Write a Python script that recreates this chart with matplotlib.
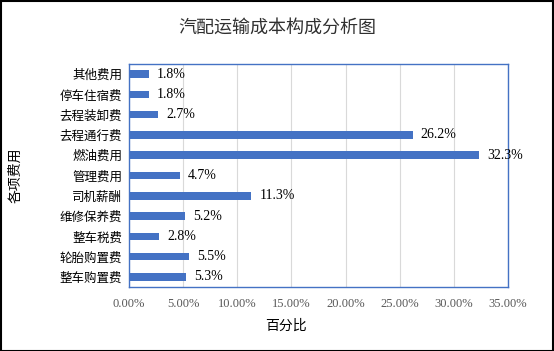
import numpy as np
import matplotlib.pyplot as plt
from matplotlib.ticker import FuncFormatter

plt.rcParams['font.family'] = ['Noto Sans CJK SC', 'DejaVu Sans']

categories = ["整车购置费", "轮胎购置费", "整车税费", "维修保养费", "司机薪酬", "管理费用",
              "燃油费用", "去程通行费", "去程装卸费", "停车住宿费", "其他费用"]
shares = [5.3, 5.5, 2.8, 5.2, 11.3, 4.7, 32.3, 26.2, 2.7, 1.8, 1.8]
xticks = [0, 5, 10, 15, 20, 25, 30, 35]

blue = "#4472C4"
serif = "Liberation Serif"

fig = plt.figure(figsize=(5.54, 3.51), dpi=100)
ax = fig.add_axes([0.2329, 0.1823, 0.684, 0.6353])

y = np.arange(len(categories))
ax.barh(y, shares, height=0.37, color=blue, zorder=3)
for yi, v in zip(y, shares):
    ax.text(v + 0.75, yi, f"{v:.1f}%", va="center", ha="left",
            fontsize=10, family=serif, color="black", zorder=4)

ax.set_xlim(0, 35)
ax.set_ylim(-0.5, len(categories) - 0.5)
ax.set_xticks(xticks)
ax.xaxis.set_major_formatter(FuncFormatter(lambda v, p: f"{v:.2f}%"))
for lab in ax.get_xticklabels():
    lab.set_family(serif)
    lab.set_fontsize(9)
    lab.set_color("#595959")
ax.set_yticks(y)
ax.set_yticklabels(categories, fontsize=9, color="black")
ax.tick_params(length=0)
ax.tick_params(axis="x", pad=8)
ax.tick_params(axis="y", pad=5)

ax.grid(axis="x", color="#D9D9D9", linewidth=0.8, zorder=0)
for s in ax.spines.values():
    s.set_color(blue)
    s.set_linewidth(1.0)

fig.text(0.5, 0.92, "汽配运输成本构成分析图", ha="center", va="center",
         fontsize=13, color="#303030")
fig.text(0.516, 0.072, "百分比", ha="center", va="center", fontsize=10, color="black")
fig.text(0.027, 0.5, "各项费用", ha="center", va="center", rotation=90,
         fontsize=10, color="black")

fig.patches.append(plt.Rectangle((0.001, 0.001), 0.997, 0.997, transform=fig.transFigure,
                                 fill=False, edgecolor="black", linewidth=1.5))

fig.savefig("out.png", dpi=100)
